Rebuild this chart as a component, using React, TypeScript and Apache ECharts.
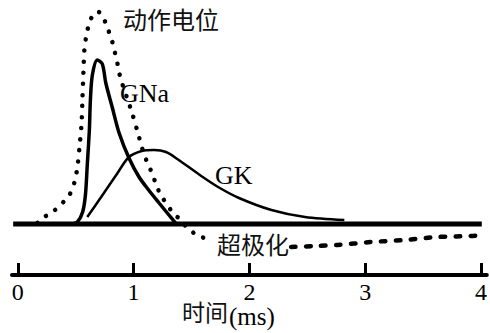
import React, { useEffect, useRef } from "react";
import * as echarts from "echarts";

// Time axis ticks (ms)
const X_TICKS = [0, 1, 2, 3, 4];

// Action potential (dotted) — rise, peak and repolarisation
const apTime = [0.17, 0.215, 0.3, 0.386, 0.446, 0.49, 0.515, 0.532, 0.55, 0.558, 0.567, 0.575, 0.59, 0.618, 0.66, 0.695, 0.73, 0.77, 0.807, 0.833, 0.858, 0.876, 0.9, 0.944, 0.987, 1.047, 1.073, 1.116, 1.159, 1.202, 1.245, 1.305, 1.33, 1.348, 1.39, 1.45, 1.52, 1.59, 1.63];
const apValue = [1, 6, 12, 21, 29, 42, 57, 76, 99, 124, 152, 174, 187, 201, 211, 212, 209, 197, 186, 174, 162, 151, 141, 126, 111, 87, 76, 62, 51, 37, 27, 17, 12, 9, 6, -2, -9, -13, -15];

// Action potential after-hyperpolarisation tail (dashed)
const tailTime = [2.36, 2.57, 2.76, 3.05, 3.34, 3.62, 3.91, 4.01];
const tailValue = [-23, -22, -21, -18, -16, -13, -12, -11];

// Sodium conductance GNa
const naTime = [0.47, 0.515, 0.56, 0.584, 0.6, 0.618, 0.627, 0.644, 0.687, 0.73, 0.76, 0.815, 0.875, 0.96, 1.047, 1.13, 1.22, 1.305, 1.37];
const naValue = [0, 2, 12, 29, 59, 94, 124, 149, 164, 160, 141, 117, 91, 66, 47, 34, 21, 9, 0];

// Potassium conductance GK
const kTime = [0.6, 0.72, 0.85, 0.96, 1.07, 1.176, 1.28, 1.39, 1.56, 1.73, 1.91, 2.19, 2.48, 2.82];
const kValue = [7, 27, 49, 67, 73, 74, 72, 64, 50, 37, 26, 14, 7, 4];

// Resting baseline
const baseTime = [-0.04, 4.007];
const baseValue = [0, 0];

const zip = (xs: number[], ys: number[]) => xs.map((x, i) => [x, ys[i]]);

const CJK = "Noto Sans CJK SC";
const SERIF = "Liberation Serif";

export default function App() {
  const ref = useRef<HTMLDivElement>(null);
  useEffect(() => {
    if (!ref.current) return;
    const chart = echarts.init(ref.current, undefined, { renderer: "svg" });
    chart.setOption({
      animation: false,
      backgroundColor: "#fff",
      grid: { left: 12, right: 0, top: 4, bottom: 58 },
      xAxis: {
        type: "value",
        min: -0.05,
        max: 4.05,
        splitLine: { show: false },
        axisLine: { show: true, onZero: false, lineStyle: { color: "#000", width: 4 } },
        axisTick: {
          show: true,
          inside: true,
          length: 12,
          customValues: X_TICKS,
          lineStyle: { color: "#000", width: 3 },
        },
        axisLabel: {
          show: true,
          customValues: X_TICKS,
          margin: 5,
          color: "#000",
          fontFamily: SERIF,
          fontSize: 24,
        },
      },
      yAxis: {
        type: "value",
        min: -51,
        max: 220,
        show: false,
        splitLine: { show: false },
      },
      series: [
        {
          type: "line",
          data: zip(baseTime, baseValue),
          symbol: "none",
          lineStyle: { color: "#000", width: 5 },
        },
        {
          type: "line",
          data: zip(apTime, apValue),
          smooth: 0.3,
          symbol: "none",
          lineStyle: { color: "#000", width: 4.5, type: [0.1, 11], cap: "round" },
        },
        {
          type: "line",
          data: zip(tailTime, tailValue),
          smooth: 0.3,
          symbol: "none",
          lineStyle: { color: "#000", width: 4.5, type: [4.5, 10.5], cap: "round" },
        },
        {
          type: "line",
          data: zip(naTime, naValue),
          smooth: 0.3,
          symbol: "none",
          lineStyle: { color: "#000", width: 3.5 },
        },
        {
          type: "line",
          data: zip(kTime, kValue),
          smooth: 0.3,
          symbol: "none",
          lineStyle: { color: "#000", width: 2.5 },
        },
      ],
      graphic: [
        { type: "text", left: 123, top: 6, style: { text: "动作电位", fontFamily: CJK, fontSize: 24, fill: "#111" } },
        { type: "text", left: 120, top: 80, style: { text: "GNa", fontFamily: SERIF, fontSize: 26, fill: "#000" } },
        { type: "text", left: 215, top: 162, style: { text: "GK", fontFamily: SERIF, fontSize: 26, fill: "#000" } },
        { type: "text", left: 217, top: 231, style: { text: "超极化", fontFamily: CJK, fontSize: 24, fill: "#111" } },
        { type: "text", left: 182, top: 299, style: { text: "时间", fontFamily: CJK, fontSize: 23, fill: "#111" } },
        { type: "text", left: 229, top: 304, style: { text: "(ms)", fontFamily: SERIF, fontSize: 25, fill: "#000" } },
      ],
    });
    return () => chart.dispose();
  }, []);
  return (
    <div
      ref={ref}
      style={{ position: "fixed", left: 0, top: 0, width: 490, height: 333, background: "#fff" }}
    />
  );
}
